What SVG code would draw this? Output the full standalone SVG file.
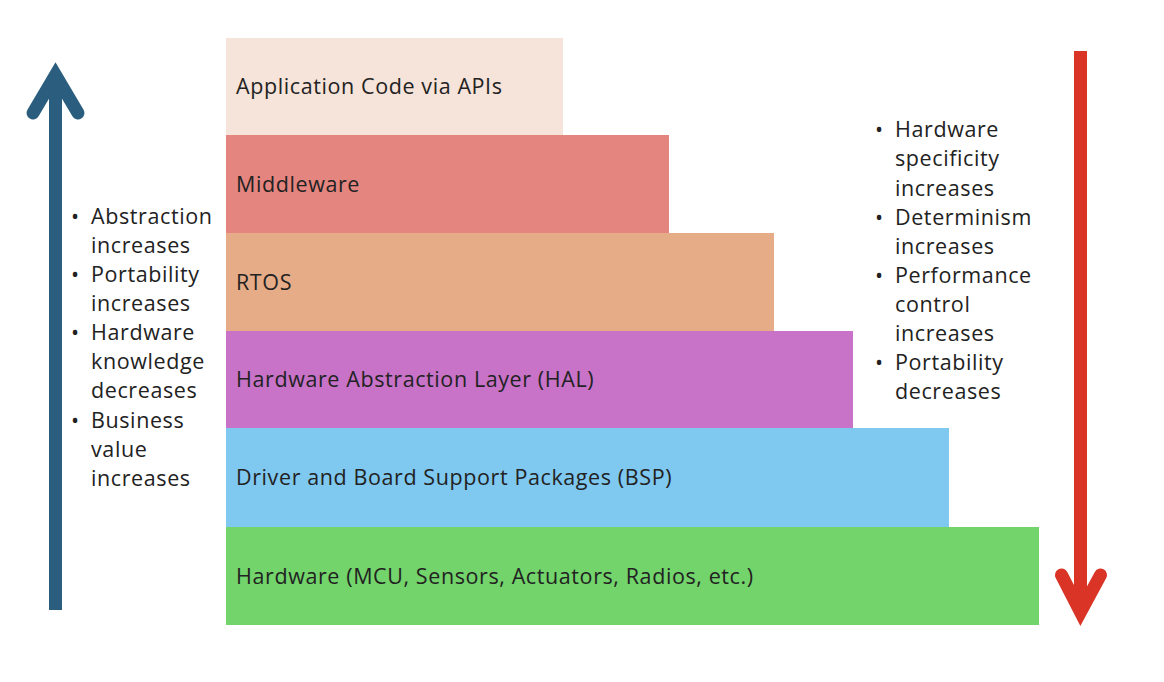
<svg xmlns="http://www.w3.org/2000/svg" width="1164" height="682" viewBox="0 0 1164 682">
<style>
text{font-family:"Open Sans","Liberation Sans",Arial,sans-serif;font-size:21.5px;letter-spacing:0.6px;fill:#222}
.arrow{fill:none;stroke-width:13;stroke-linecap:round;stroke-linejoin:miter}
.shaft{fill:none;stroke-width:13;stroke-linecap:butt}
</style>
<rect width="1164" height="682" fill="#fff"/>
<g id="layers">
<g id="app"><rect x="226" y="38" width="337" height="97" fill="#F6E3D9"/><text x="236" y="94">Application Code via APIs</text></g>
<g id="middleware"><rect x="226" y="135" width="443" height="98" fill="#E5857F"/><text x="236" y="192">Middleware</text></g>
<g id="rtos"><rect x="226" y="233" width="548" height="98" fill="#E6AC88"/><text x="236" y="290">RTOS</text></g>
<g id="hal"><rect x="226" y="331" width="627" height="97" fill="#C873C8"/><text x="236" y="387">Hardware Abstraction Layer (HAL)</text></g>
<g id="bsp"><rect x="226" y="428" width="723" height="99" fill="#7FC8F0"/><text x="236" y="485">Driver and Board Support Packages (BSP)</text></g>
<g id="hw"><rect x="226" y="527" width="813" height="98" fill="#72D46B"/><text x="236" y="584">Hardware (MCU, Sensors, Actuators, Radios, etc.)</text></g>
</g>
<g id="connectors">
<path class="shaft" stroke="#2B5E7E" d="M55.5 610 V78"/>
<path class="arrow" stroke="#2B5E7E" d="M33 113 L55.5 75 L78 113"/>
<path class="shaft" stroke="#D93425" d="M1080.5 51 V608"/>
<path class="arrow" stroke="#D93425" d="M1061.5 575 L1080.5 612 L1100.5 575"/>
</g>
<g id="left-notes">
<text x="71" y="224">•</text><text x="91" y="224">Abstraction</text>
<text x="91" y="253">increases</text>
<text x="71" y="282">•</text><text x="91" y="282">Portability</text>
<text x="91" y="311">increases</text>
<text x="71" y="340">•</text><text x="91" y="340">Hardware</text>
<text x="91" y="369">knowledge</text>
<text x="91" y="398">decreases</text>
<text x="71" y="428">•</text><text x="91" y="428">Business</text>
<text x="91" y="457">value</text>
<text x="91" y="486">increases</text>
</g>
<g id="right-notes">
<text x="875" y="137">•</text><text x="895" y="137">Hardware</text>
<text x="895" y="166">specificity</text>
<text x="895" y="196">increases</text>
<text x="875" y="225">•</text><text x="895" y="225">Determinism</text>
<text x="895" y="254">increases</text>
<text x="875" y="283">•</text><text x="895" y="283">Performance</text>
<text x="895" y="312">control</text>
<text x="895" y="341">increases</text>
<text x="875" y="370">•</text><text x="895" y="370">Portability</text>
<text x="895" y="399">decreases</text>
</g>
</svg>
